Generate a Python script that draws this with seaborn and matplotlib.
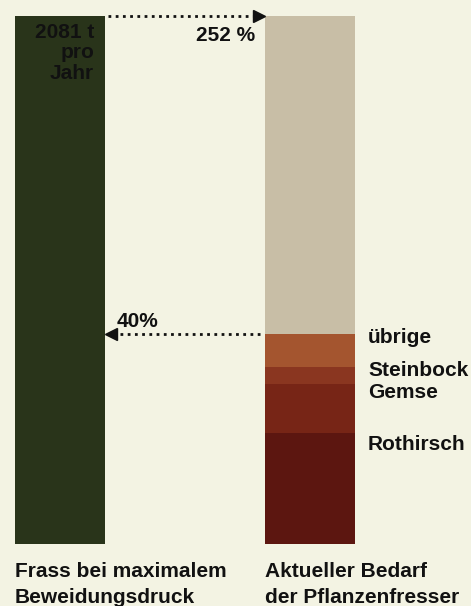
import matplotlib
matplotlib.use("Agg")
import matplotlib.pyplot as plt
import seaborn as sns
import pandas as pd
import numpy as np

# ---- data ----
bar_labels = [["Frass bei maximalem", "Beweidungsdruck"],
              ["Aktueller Bedarf", "der Pflanzenfresser"]]
total_tonnes = 2081
species = ["Rothirsch", "Gemse", "Steinbock", "übrige"]
species_values = [437, 193, 67, 130]          # t pro Jahr
total_label = ["2081 t", "pro", "Jahr"]
pct_up_label = "252 %"
pct_down_label = "40%"

# ---- styling ----
bg = "#f3f3e3"
c_left = "#29341a"
c_rest = "#c8bea6"
species_colors = ["#5c1610", "#772516", "#8a3620", "#a4552f"]
txt = "#111111"

sns.set_theme(style="white")
plt.rcParams["font.family"] = ["Liberation Sans", "DejaVu Sans"]

fig = plt.figure(figsize=(4.71, 6.06), dpi=100, facecolor=bg)
ax = fig.add_axes([0, 62 / 606, 1, 528 / 606])
ax.set_facecolor(bg)

cats = ["left", "right"]
W = 0.36
cum = np.cumsum(species_values)
demand = cum[-1]

layers = [("left", total_tonnes, c_left), ("right", total_tonnes, c_rest)]
for i in range(len(species) - 1, -1, -1):
    layers.append(("right", cum[i], species_colors[i]))

for cat, val, col in layers:
    df = pd.DataFrame({"cat": [cat], "val": [val]})
    sns.barplot(data=df, x="cat", y="val", order=cats, color=col, width=W,
                saturation=1, linewidth=0, ax=ax, errorbar=None)

ax.set_xlim(-0.24, 1.644)
ax.set_ylim(0, total_tonnes)
ax.axis("off")

ypx = total_tonnes / 528      # data units per pixel (vertical)
xpx = 1 / 250                 # data units per pixel (horizontal)
fs = 15


def T(x, y, s, **kw):
    ax.text(x, y, s, fontsize=fs, fontweight="bold", color=txt,
            va="baseline", clip_on=False, **kw)


# label inside left bar
for k, line in enumerate(total_label):
    T(W / 2 - 11 * xpx, total_tonnes - (22 + 20.5 * k) * ypx, line, ha="right")

# top arrow (left -> right)
x_l = 0 + W / 2
x_r = 1 - W / 2
ax.plot([x_l + 0.01, x_r - 0.03], [total_tonnes, total_tonnes], ls=(0, (1, 1.6)),
        lw=2, color=txt, clip_on=False)
ax.plot([x_r - 0.025], [total_tonnes], marker=">", ms=8, color=txt, mec=txt,
        clip_on=False, ls="none")
T(x_r - 10 * xpx, total_tonnes - 25 * ypx, pct_up_label, ha="right")

# lower arrow (right -> left)
ax.plot([x_r - 0.02, x_l + 0.03], [demand, demand], ls=(0, (1, 1.6)),
        lw=2, color=txt, clip_on=False)
ax.plot([x_l + 0.025], [demand], marker="<", ms=8, color=txt, mec=txt,
        clip_on=False, ls="none")
T(x_l + 12 * xpx, demand + 7 * ypx, pct_down_label, ha="left")

# species labels (baseline offset below each segment's top, in px)
offsets = [17, 14, 9, 9]
for i, name in enumerate(species):
    T(1 + W / 2 + 13 * xpx, cum[i] - offsets[i] * ypx, name, ha="left")

# bottom labels
for i, lines in enumerate(bar_labels):
    for k, line in enumerate(lines):
        T(i - W / 2, -(33 + 26 * k) * ypx, line, ha="left")

fig.savefig("out.png", dpi=100, facecolor=bg)
